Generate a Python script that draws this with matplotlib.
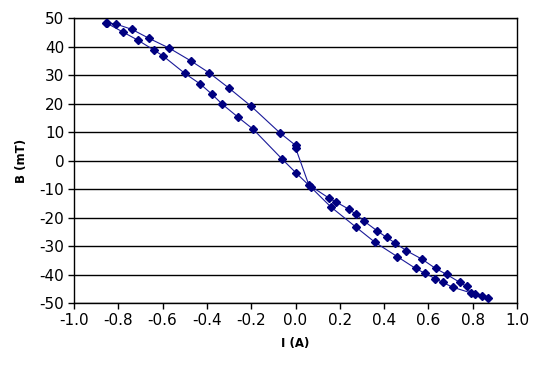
import matplotlib
matplotlib.use("Agg")
import matplotlib.pyplot as plt
import numpy as np

# Branch 1 (upper line), ascending current, ending at the tip
current_up = [-0.856, -0.811, -0.738, -0.662, -0.569, -0.471, -0.390, -0.300, -0.202,
              -0.070, 0.001, 0.001, 0.060, 0.152, 0.181, 0.242, 0.271, 0.309, 0.368,
              0.411, 0.448, 0.501, 0.572, 0.632, 0.682, 0.742, 0.772,
              0.790, 0.809, 0.842, 0.871]
field_up = [48.5, 48.0, 46.1, 43.0, 39.5, 35.0, 30.9, 25.5, 19.3,
            9.8, 5.4, 4.4, -8.4, -13.1, -14.3, -17.0, -18.6, -21.1, -24.5,
            -26.8, -28.7, -31.5, -34.5, -37.7, -39.8, -42.6, -44.0,
            -46.4, -46.7, -47.4, -48.2]

# Branch 2 (lower line), descending current, back to the other tip
current_down = [0.710, 0.664, 0.631, 0.584, 0.542, 0.460, 0.358, 0.271, 0.159,
                0.069, 0.001, -0.060, -0.191, -0.259, -0.331, -0.379, -0.429,
                -0.500, -0.598, -0.638, -0.711, -0.777, -0.850]
field_down = [-44.3, -42.6, -41.3, -39.4, -37.7, -33.6, -28.5, -23.1, -16.1,
              -9.2, -4.1, 0.6, 11.1, 15.3, 19.9, 23.5, 26.9,
              30.7, 36.8, 38.8, 42.3, 45.1, 48.2]

x_ticks = [-1.0, -0.8, -0.6, -0.4, -0.2, 0.0, 0.2, 0.4, 0.6, 0.8, 1.0]
y_ticks = [-50, -40, -30, -20, -10, 0, 10, 20, 30, 40, 50]

current = current_up + current_down
field = field_up + field_down

fig = plt.figure(figsize=(5.35, 3.66), dpi=100)
ax = fig.add_axes([0.1383, 0.1708, 0.9664 - 0.1383, 0.95 - 0.1708])

for yv in y_ticks:
    ax.axhline(yv, color="black", lw=1.0, zorder=1)

ax.plot(current, field, color="#1a1a99", lw=0.8, marker="D", markersize=4.2,
        markerfacecolor="#000080", markeredgecolor="#000080", zorder=3)

ax.set_xlim(-1.0, 1.0)
ax.set_ylim(-50, 50)
ax.set_xticks(x_ticks)
ax.set_xticklabels([f"{v:.1f}" for v in x_ticks])
ax.set_yticks(y_ticks)
ax.set_yticklabels([str(v) for v in y_ticks])
ax.tick_params(direction="out", length=4, width=1, labelsize=11, color="black", pad=3)
for s in ax.spines.values():
    s.set_color("black")
    s.set_linewidth(1.0)

ax.set_xlabel("I (A)", fontsize=8.5, fontweight="bold", labelpad=6)
ax.set_ylabel("B (mT)", fontsize=8.5, fontweight="bold", labelpad=8)

fig.savefig("out.png", dpi=100)
